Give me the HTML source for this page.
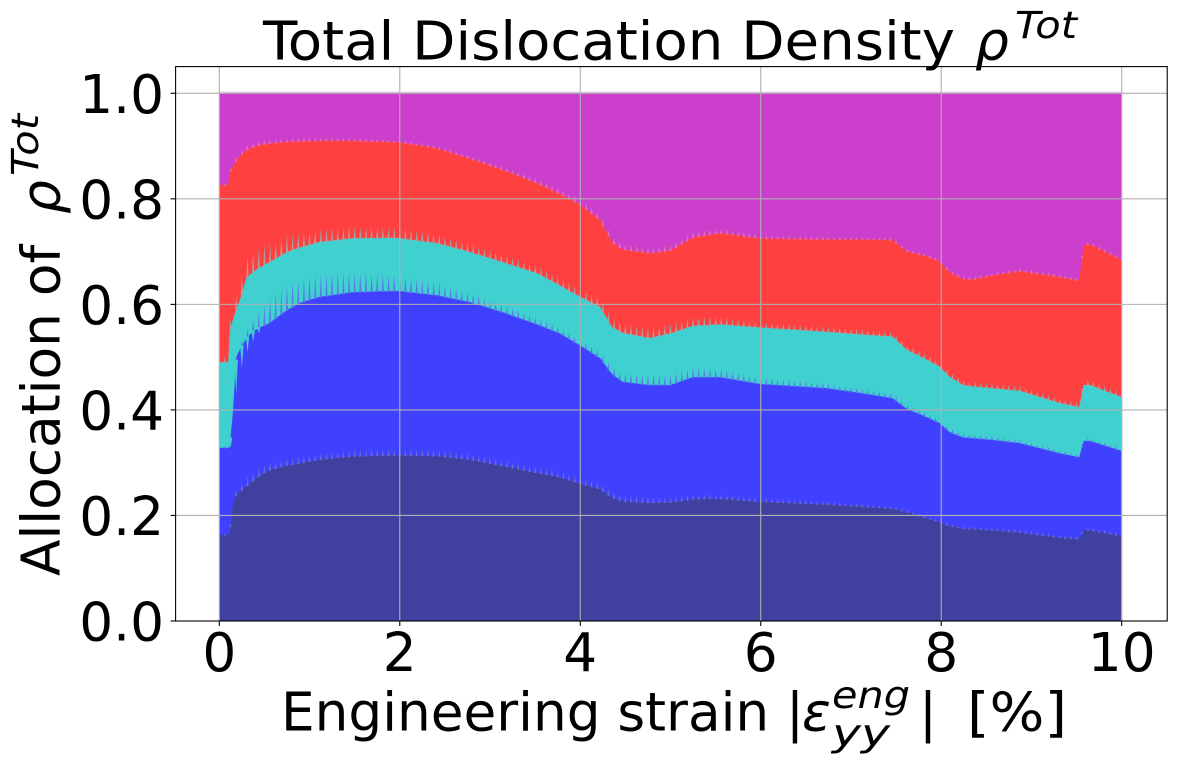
<!DOCTYPE html>
<html>
<head>
<meta charset="utf-8">
<title>Total Dislocation Density</title>
<style>
html,body{margin:0;padding:0;background:#fff;width:1178px;height:765px;overflow:hidden}
svg{display:block}
text{font-family:"DejaVu Sans","Liberation Sans",sans-serif;fill:#000}
.big{font-size:53.33px}
.sup{font-size:37.3px;font-style:italic}
.it{font-style:italic}
</style>
</head>
<body>
<svg id="chart" xmlns="http://www.w3.org/2000/svg" width="1178" height="765" viewBox="0 0 1178 765">
  <rect x="0" y="0" width="1178" height="765" fill="#ffffff"/>
  <g id="bands"></g>
  <g id="teeth"></g>
  <g id="grid"></g>
  <rect x="175.6" y="66.6" width="991.6" height="554.4" fill="none" stroke="#000" stroke-width="1.1"/>
  <g id="ticks"></g>

  <g>
    <text class="big" x="263" y="59.5" textLength="692" lengthAdjust="spacingAndGlyphs">Total Dislocation Density</text>
    <text class="big it" x="975" y="59.5">ρ</text>
    <text class="sup" x="1015" y="38" textLength="62" lengthAdjust="spacingAndGlyphs">Tot</text>
  </g>

  <g>
    <text class="big" x="281" y="730.7" textLength="523" lengthAdjust="spacingAndGlyphs">Engineering strain |</text>
    <text class="big it" x="802" y="730.7">ε</text>
    <text class="sup" x="832" y="708" textLength="78" lengthAdjust="spacingAndGlyphs">eng</text>
    <text class="sup" x="832" y="746" textLength="58" lengthAdjust="spacingAndGlyphs">yy</text>
    <text class="big" x="919" y="730.7">|</text>
    <text class="big" x="967" y="730.7" textLength="100" lengthAdjust="spacingAndGlyphs">[%]</text>
  </g>

  <g>
    <text class="big" transform="translate(59.5,576) rotate(-90)" x="0" y="0">Allocation of</text>
    <text class="big it" transform="translate(59.5,214) rotate(-90)" x="0" y="0">ρ</text>
    <text class="sup" transform="translate(38,176) rotate(-90)" x="0" y="0" textLength="62" lengthAdjust="spacingAndGlyphs">Tot</text>
  </g>
</svg>
<script>
// Strain knots (%) shared by every series
const strain = [0,.1,.116,.15,.19,.23,.30,.37,.45,.56,.75,.9,1.11,1.48,1.86,2.0,2.41,2.78,3.14,3.52,3.77,3.99,4.22,4.35,4.47,4.77,5.0,5.25,5.55,5.99,6.73,7.1,7.46,7.61,7.84,7.98,8.09,8.24,8.37,8.57,8.87,9.31,9.53,9.58,9.65,10];
// Cumulative allocation at the top of each stacked band
const navyTop = [.163,.163,.165,.22,.239,.245,.255,.265,.276,.286,.295,.299,.306,.312,.314,.314,.313,.306,.294,.281,.273,.261,.25,.234,.227,.224,.225,.231,.232,.226,.221,.217,.213,.207,.195,.187,.18,.175,.174,.172,.168,.158,.155,.172,.172,.161];
const blueTop = [.328,.328,.33,.39,.50,.515,.535,.548,.556,.565,.589,.603,.614,.623,.625,.625,.617,.604,.585,.562,.545,.523,.498,.468,.453,.447,.447,.462,.462,.449,.441,.432,.422,.403,.386,.375,.358,.348,.346,.343,.337,.318,.31,.341,.341,.322];
const turquoiseTop = [.49,.49,.545,.57,.59,.608,.649,.661,.67,.68,.699,.708,.718,.725,.726,.725,.716,.699,.68,.659,.636,.615,.595,.557,.546,.536,.545,.559,.562,.556,.548,.543,.539,.515,.495,.482,.463,.447,.444,.441,.436,.413,.405,.447,.447,.424];
const redTop = [.826,.826,.85,.86,.872,.882,.892,.898,.902,.905,.908,.909,.91,.91,.908,.907,.896,.876,.855,.83,.81,.79,.76,.718,.704,.697,.702,.727,.735,.725,.723,.723,.722,.701,.691,.682,.661,.648,.648,.655,.663,.652,.645,.712,.714,.684];
const purpleTop = [1,1,1,1,1,1,1,1,1,1,1,1,1,1,1,1,1,1,1,1,1,1,1,1,1,1,1,1,1,1,1,1,1,1,1,1,1,1,1,1,1,1,1,1,1,1];

// Height of the per-cycle spike above each band edge, in allocation units
const spikeStrain = [0,.12,.3,.6,1,2,3,4,4.5,5,6,7,8,9,10];
const navySpike = [.004,.006,.018,.014,.012,.012,.012,.012,.012,.01,.008,.006,.005,.006,.006];
const blueSpike = [.004,.004,.015,.05,.045,.03,.015,.01,.017,.02,.012,.009,.008,.006,.006];
const turquoiseSpike = [.004,.02,.04,.038,.025,.02,.015,.015,.02,.02,.01,.01,.01,.01,.01];
const redSpike = [.004,.006,.01,.008,.007,.005,.007,.012,.012,.012,.008,.005,.006,.006,.006];
// Early cycles: turquoise wedges drop down into the blue band
const dipStrain = [0,.1,.19,.23,.3,.37,.5,10];
const blueDip = [0,0,.065,.045,.03,.02,0,0];
const loadCycles = 160;

const xTickValues = [0,2,4,6,8,10];
const xTickLabels = ["0","2","4","6","8","10"];
const yTickValues = [0,.2,.4,.6,.8,1];
const yTickLabels = ["0.0","0.2","0.4","0.6","0.8","1.0"];

const NS = "http://www.w3.org/2000/svg";
const axisLeft = 175.6, axisRight = 1167.2, axisTop = 66.6, axisBottom = 621;
function xScale(v){ return 219.3 + v * 90.24; }
function yScale(v){ return 621 - v * 527.7; }
function between(xs, ys, x){
  for (let i = 1; i < xs.length; i++) {
    if (x <= xs[i]) {
      const t = (x - xs[i-1]) / (xs[i] - xs[i-1]);
      return ys[i-1] + t * (ys[i] - ys[i-1]);
    }
  }
  return ys[ys.length - 1];
}

const bandDefs = [
  {top: purpleTop, bottom: redTop, color: "#cc3ecc", name: "band-purple"},
  {top: redTop, bottom: turquoiseTop, color: "#ff4040", name: "band-red"},
  {top: turquoiseTop, bottom: blueTop, color: "#40d0d0", name: "band-turquoise"},
  {top: blueTop, bottom: navyTop, color: "#4040ff", name: "band-blue"},
  {top: navyTop, bottom: null, color: "#40409f", name: "band-navy"}
];
const bandsLayer = document.getElementById("bands");
bandDefs.forEach(function(b){
  const pts = [];
  strain.forEach(function(s, i){ pts.push(xScale(s).toFixed(2) + "," + yScale(b.top[i]).toFixed(2)); });
  for (let i = strain.length - 1; i >= 0; i--) {
    const low = b.bottom ? b.bottom[i] : 0;
    pts.push(xScale(strain[i]).toFixed(2) + "," + yScale(low).toFixed(2));
  }
  const poly = document.createElementNS(NS, "polygon");
  poly.setAttribute("points", pts.join(" "));
  poly.setAttribute("fill", b.color);
  poly.setAttribute("stroke", b.color);
  poly.setAttribute("stroke-width", "0.3");
  
  
  bandsLayer.appendChild(poly);
});

const toothDefs = [
  {edge: navyTop, spike: navySpike, color: "#6a6acf", name: "spikes-navy"},
  {edge: blueTop, spike: blueSpike, color: "#5a7ae8", name: "spikes-blue"},
  {edge: turquoiseTop, spike: turquoiseSpike, color: "#a8a0a0", name: "spikes-turquoise"},
  {edge: redTop, spike: redSpike, color: "#e870a8", name: "spikes-red"}
];
const teethLayer = document.getElementById("teeth");
toothDefs.forEach(function(d){
  let path = "";
  for (let c = 1; c < loadCycles; c++) {
    const s = c * 10 / loadCycles;
    const px = xScale(s);
    const base = yScale(between(strain, d.edge, s));
    const tip = base - between(spikeStrain, d.spike, s) * 527.7;
    path += "M" + (px - 1.1).toFixed(2) + " " + (base + 0.6).toFixed(2) +
            "L" + px.toFixed(2) + " " + tip.toFixed(2) +
            "L" + (px + 1.1).toFixed(2) + " " + (base + 0.6).toFixed(2) + "Z";
  }
  const el = document.createElementNS(NS, "path");
  el.setAttribute("d", path);
  el.setAttribute("fill", d.color);
  
  
  teethLayer.appendChild(el);
});

let dipPath = "";
for (let c = 1; c < loadCycles / 10; c++) {
  const s = c * 10 / loadCycles;
  const depth = between(dipStrain, blueDip, s);
  if (depth > 0) {
    const px = xScale(s);
    const base = yScale(between(strain, blueTop, s));
    dipPath += "M" + (px - 1.7).toFixed(2) + " " + (base - 1).toFixed(2) +
               "L" + px.toFixed(2) + " " + (base + depth * 527.7).toFixed(2) +
               "L" + (px + 1.7).toFixed(2) + " " + (base - 1).toFixed(2) + "Z";
  }
}
const dipEl = document.createElementNS(NS, "path");
dipEl.setAttribute("d", dipPath);
dipEl.setAttribute("fill", "#40d0d0");


teethLayer.appendChild(dipEl);

function addLine(parent, x1, y1, x2, y2, color, width, name){
  const l = document.createElementNS(NS, "line");
  l.setAttribute("x1", x1);
  l.setAttribute("y1", y1);
  l.setAttribute("x2", x2);
  l.setAttribute("y2", y2);
  l.setAttribute("stroke", color);
  l.setAttribute("stroke-width", width);
  
  
  parent.appendChild(l);
}
function addText(parent, x, y, anchor, str, name){
  const t = document.createElementNS(NS, "text");
  t.setAttribute("x", x);
  t.setAttribute("y", y);
  t.setAttribute("text-anchor", anchor);
  t.setAttribute("class", "big");
  
  
  t.textContent = str;
  parent.appendChild(t);
}

const gridLayer = document.getElementById("grid");
const tickLayer = document.getElementById("ticks");
addLine(gridLayer, xScale(0), yScale(1) - 1, xScale(10), yScale(1) - 1, "#e6b8e6", 1, "top-edge-highlight");
addLine(gridLayer, xScale(10), yScale(1), xScale(10), yScale(0), "#b4a8d8", 1, "right-edge-highlight");
xTickValues.forEach(function(v, i){
  const x = xScale(v);
  addLine(gridLayer, x, axisTop, x, axisBottom, "#b0b0b0", 1.1, "x-grid-line");
  addLine(tickLayer, x, axisBottom, x, axisBottom + 5, "#000", 1.1, "x-tick-mark");
  addText(tickLayer, x, 671, "middle", xTickLabels[i], "x-tick-label");
});
yTickValues.forEach(function(v, i){
  const y = yScale(v);
  addLine(gridLayer, axisLeft, y, axisRight, y, "#b0b0b0", 1.1, "y-grid-line");
  addLine(tickLayer, axisLeft - 5, y, axisLeft, y, "#000", 1.1, "y-tick-mark");
  addText(tickLayer, 164, y + 19.7, "end", yTickLabels[i], "y-tick-label");
});
</script>
</body>
</html>
